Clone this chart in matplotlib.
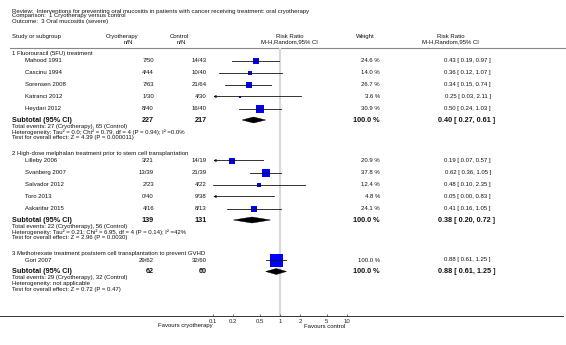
import matplotlib
matplotlib.use("Agg")
import matplotlib.pyplot as plt
from matplotlib.patches import Polygon
from matplotlib.ticker import NullLocator
import numpy as np

plt.rcParams['font.family'] = ['Liberation Sans', 'DejaVu Sans']

# ---------------- data ----------------
review_text = "Review:  Interventions for preventing oral mucositis in patients with cancer receiving treatment: oral cryotherapy"
comparison_text = "Comparison:  1 Cryotherapy versus control"
outcome_text = "Outcome:  3 Oral mucositis (severe)"

group_titles = [
    "1 Fluorouracil (5FU) treatment",
    "2 High-dose melphalan treatment prior to stem cell transplantation",
    "3 Methotrexate treatment poststem cell transplantation to prevent GVHD",
]

g1_names = ["Mahood 1991", "Cascinu 1994", "Sorensen 2008", "Katranci 2012", "Heydari 2012"]
g1_cryo_events = [7, 4, 7, 1, 8]
g1_cryo_n = [50, 44, 63, 30, 40]
g1_ctrl_events = [14, 10, 21, 4, 16]
g1_ctrl_n = [43, 40, 64, 30, 40]
g1_weight = [24.6, 14.0, 26.7, 3.6, 30.9]
g1_rr = [0.43, 0.36, 0.34, 0.25, 0.50]
g1_lo = [0.19, 0.12, 0.15, 0.03, 0.24]
g1_hi = [0.97, 1.07, 0.74, 2.11, 1.03]

g2_names = ["Lilleby 2006", "Svanberg 2007", "Salvador 2012", "Toro 2013", "Askarifar 2015"]
g2_cryo_events = [3, 13, 2, 0, 4]
g2_cryo_n = [21, 39, 23, 40, 16]
g2_ctrl_events = [14, 21, 4, 9, 8]
g2_ctrl_n = [19, 39, 22, 38, 13]
g2_weight = [20.9, 37.8, 12.4, 4.8, 24.1]
g2_rr = [0.19, 0.62, 0.48, 0.05, 0.41]
g2_lo = [0.07, 0.36, 0.10, 0.00, 0.16]
g2_hi = [0.57, 1.05, 2.35, 0.83, 1.05]

g3_names = ["Gori 2007"]
g3_cryo_events = [29]
g3_cryo_n = [62]
g3_ctrl_events = [32]
g3_ctrl_n = [60]
g3_weight = [100.0]
g3_rr = [0.88]
g3_lo = [0.61]
g3_hi = [1.25]

sub_rr = [0.40, 0.38, 0.88]
sub_lo = [0.27, 0.20, 0.61]
sub_hi = [0.61, 0.72, 1.25]

sub_notes = [
    ["Total events: 27 (Cryotherapy), 65 (Control)",
     "Heterogeneity: Tau\u00b2 = 0.0; Chi\u00b2 = 0.79, df = 4 (P = 0.94); I\u00b2 =0.0%",
     "Test for overall effect: Z = 4.39 (P = 0.000011)"],
    ["Total events: 22 (Cryotherapy), 56 (Control)",
     "Heterogeneity: Tau\u00b2 = 0.21; Chi\u00b2 = 6.95, df = 4 (P = 0.14); I\u00b2 =42%",
     "Test for overall effect: Z = 2.96 (P = 0.0030)"],
    ["Total events: 29 (Cryotherapy), 32 (Control)",
     "Heterogeneity: not applicable",
     "Test for overall effect: Z = 0.72 (P = 0.47)"],
]

tick_values = [0.1, 0.2, 0.5, 1, 2, 5, 10]
tick_labels = ["0.1", "0.2", "0.5", "1", "2", "5", "10"]
favours_left = "Favours cryotherapy"
favours_right = "Favours control"

groups = [
    (g1_names, g1_cryo_events, g1_cryo_n, g1_ctrl_events, g1_ctrl_n, g1_weight, g1_rr, g1_lo, g1_hi),
    (g2_names, g2_cryo_events, g2_cryo_n, g2_ctrl_events, g2_ctrl_n, g2_weight, g2_rr, g2_lo, g2_hi),
    (g3_names, g3_cryo_events, g3_cryo_n, g3_ctrl_events, g3_ctrl_n, g3_weight, g3_rr, g3_lo, g3_hi),
]

# ---------------- layout ----------------
W, H = 566, 345
FS = 4.35     # regular font size
FSB = 5.2     # bold font size
X_LEFT = 12.5
X_STUDY = 25
X_CRYO = 154
X_CTRL = 206.5
X_WEIGHT = 380
X_RR = 491
X_RR_B = 495
X0_PX, X1_PX = 213.33, 346.67   # pixel positions of 0.1 and 10
Y_TOP, Y_AXIS = 47.8, 315.5

group_header_y = [54.0, 154.0, 253.5]
first_study_offset = 6.5
row_step = 12.0
sub_offset = 11.5
note_offsets = [6.5, 12.0, 17.5]

fig = plt.figure(figsize=(W / 100, H / 100), dpi=100)
ax0 = fig.add_axes([0, 0, 1, 1])
ax0.set_xlim(0, W)
ax0.set_ylim(H, 0)
ax0.axis('off')

axf = fig.add_axes([X0_PX / W, 1 - Y_AXIS / H, (X1_PX - X0_PX) / W, (Y_AXIS - Y_TOP) / H])
axf.set_xscale('log')
axf.set_xlim(0.1, 10)
axf.set_ylim(Y_AXIS, Y_TOP)
for s in axf.spines.values():
    s.set_visible(False)
axf.patch.set_visible(False)
axf.set_yticks([])
axf.set_xticks(tick_values)
axf.set_xticklabels(tick_labels)
axf.xaxis.set_minor_locator(NullLocator())
axf.tick_params(axis='x', direction='in', length=1.8, width=0.5, labelsize=FS, pad=2.3,
                color='#333333', labelcolor='#222222')

def txt(x, y, s, ha='left', bold=False, size=None):
    ax0.text(x, y, s, ha=ha, va='center', fontsize=size if size else (FSB if bold else FS),
             fontweight='bold' if bold else 'normal', color='#111111')

# title block
txt(X_LEFT, 11.0, review_text)
txt(X_LEFT, 16.0, comparison_text)
txt(X_LEFT, 21.0, outcome_text)

# headers
txt(X_LEFT, 36.8, "Study or subgroup")
txt(122, 36.8, "Cryotherapy", ha='center')
txt(128, 42.2, "n/N", ha='center')
txt(179, 36.8, "Control", ha='center')
txt(181, 42.2, "n/N", ha='center')
txt(290, 36.8, "Risk Ratio", ha='center')
txt(289, 42.2, "M-H,Random,95% CI", ha='center')
txt(365, 36.8, "Weight", ha='center')
txt(451, 36.8, "Risk Ratio", ha='center')
txt(450, 42.2, "M-H,Random,95% CI", ha='center')

ax0.plot([10, W], [Y_TOP, Y_TOP], color='#888888', lw=0.8)
ax0.plot([0, 563], [Y_AXIS, Y_AXIS], color='#333333', lw=0.7)

axf.axvline(1, color='#d9d9d9', lw=1.6, zorder=0)

def sq_size(w):
    return 1.3 * np.sqrt(w) * 0.72  # points

for gi, g in enumerate(groups):
    names, ce, cn, te, tn, wt, rr, lo, hi = g
    gy = group_header_y[gi]
    txt(X_LEFT, gy, group_titles[gi])
    y = gy + first_study_offset
    for i in range(len(names)):
        txt(X_STUDY, y, names[i])
        txt(X_CRYO, y, f"{ce[i]}/{cn[i]}", ha='right')
        txt(X_CTRL, y, f"{te[i]}/{tn[i]}", ha='right')
        txt(X_WEIGHT, y, f"{wt[i]:.1f} %", ha='right')
        txt(X_RR, y, f"{rr[i]:.2f} [ {lo[i]:.2f}, {hi[i]:.2f} ]", ha='right')
        # forest marks
        left = max(lo[i], 0.1)
        right = min(hi[i], 10)
        if rr[i] >= 0.1:
            axf.plot([rr[i]], [y], marker='s', markersize=sq_size(wt[i]),
                     color='#0000ff', markeredgewidth=0, zorder=2)
        if lo[i] < 0.1:
            axf.annotate('', xy=(0.1, y), xytext=(right, y), annotation_clip=False,
                         arrowprops=dict(arrowstyle='-|>', lw=0.6, color='#111111',
                                         mutation_scale=3.5, shrinkA=0, shrinkB=0), zorder=3)
        else:
            axf.plot([left, right], [y, y], color='#111111', lw=0.6, zorder=3)
        y += row_step
    sy = y - row_step + sub_offset
    txt(X_LEFT, sy, "Subtotal (95% CI)", bold=True)
    txt(X_CRYO, sy, f"{sum(cn)}", ha='right', bold=True)
    txt(X_CTRL, sy, f"{sum(tn)}", ha='right', bold=True)
    txt(X_WEIGHT, sy, "100.0 %", ha='right', bold=True)
    txt(X_RR_B, sy, f"{sub_rr[gi]:.2f} [ {sub_lo[gi]:.2f}, {sub_hi[gi]:.2f} ]", ha='right', bold=True)
    d = Polygon([(sub_lo[gi], sy), (sub_rr[gi], sy - 3), (sub_hi[gi], sy), (sub_rr[gi], sy + 3)],
                closed=True, facecolor='black', edgecolor='black', lw=0.3, zorder=3)
    axf.add_patch(d)
    for k, note in enumerate(sub_notes[gi]):
        txt(X_LEFT, sy + note_offsets[k], note)

txt(213, 326.0, favours_left, ha='right')
txt(304, 326.0, favours_right, ha='left')

fig.savefig("out.png", dpi=100)
